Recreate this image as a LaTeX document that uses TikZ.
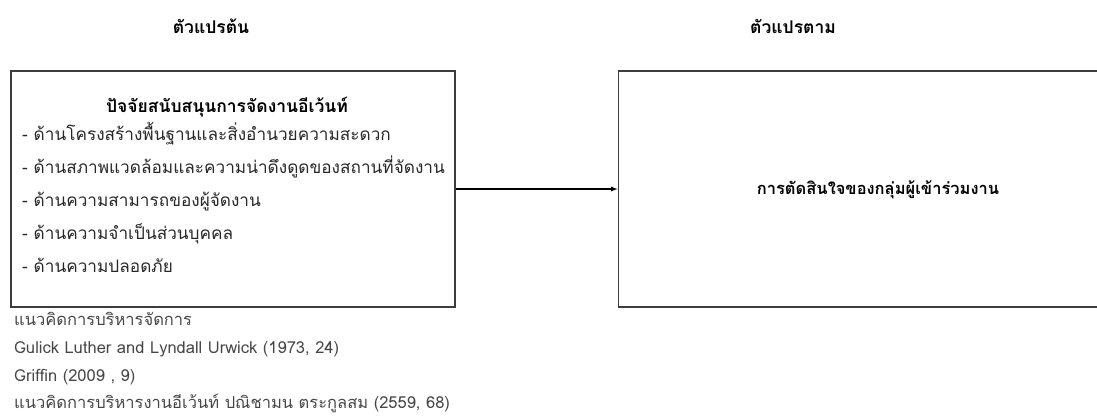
\documentclass[tikz,border=0pt]{standalone}
\usepackage{fontspec}
\setmainfont[Script=Thai]{Loma}
\usetikzlibrary{arrows,positioning}
\definecolor{vrline}{RGB}{60,60,60}
\definecolor{vrtext}{RGB}{40,40,40}
\definecolor{vrnote}{RGB}{70,70,70}
\tikzstyle{arrow} = [line width=1.2pt,-latex,color=black]
\tikzstyle{varbox} = [rectangle, draw=vrline, line width=1.1pt, minimum height=236pt, inner sep=0pt]
\tikzstyle{headtext} = [font=\fontsize{17.5}{20}\selectfont\bfseries, anchor=base, inner sep=0pt]
\tikzstyle{itemtext} = [font=\fontsize{17.2}{20}\selectfont, text=vrtext, anchor=base west, inner sep=0pt]
\tikzstyle{notetext} = [font=\fontsize{16.5}{19}\selectfont, text=vrnote, anchor=base west, inner sep=0pt]

\begin{document}
\begin{tikzpicture}[x=1pt,y=-1pt]
\useasboundingbox (0,0) rectangle (1097,416);

\node[headtext] (indep) at (211,33) {ตัวแปรต้น};
\node[headtext] (dep) at (793,33) {ตัวแปรตาม};

\node[varbox, minimum width=444pt] (support) at (233,189) {};
\node[varbox, minimum width=522pt, right=162pt of support] (decision) {};
\node[headtext, font=\fontsize{16.5}{19}\selectfont\bfseries] (dtext) at (878,194) {การตัดสินใจของกลุ่มผู้เข้าร่วมงาน};

\node[headtext] (stitle) at (227,112) {ปัจจัยสนับสนุนการจัดงานอีเว้นท์};
\node[itemtext] (f1) at (22,140) {- ด้านโครงสร้างพื้นฐานและสิ่งอำนวยความสะดวก};
\node[itemtext] (f2) at (22,173) {- ด้านสภาพแวดล้อมและความน่าดึงดูดของสถานที่จัดงาน};
\node[itemtext] (f3) at (22,206) {- ด้านความสามารถของผู้จัดงาน};
\node[itemtext] (f4) at (22,239) {- ด้านความจำเป็นส่วนบุคคล};
\node[itemtext] (f5) at (22,272) {- ด้านความปลอดภัย};

\node[notetext] (n1) at (14,325) {แนวคิดการบริหารจัดการ};
\node[notetext] (n2) at (14,353) {Gulick Luther and Lyndall Urwick (1973, 24)};
\node[notetext] (n3) at (14,381) {Griffin (2009 , 9)};
\node[notetext] (n4) at (14,408) {แนวคิดการบริหารงานอีเว้นท์ ปณิชามน ตระกูลสม (2559, 68)};

\draw[arrow] (support) -- (decision);
\end{tikzpicture}
\end{document}
